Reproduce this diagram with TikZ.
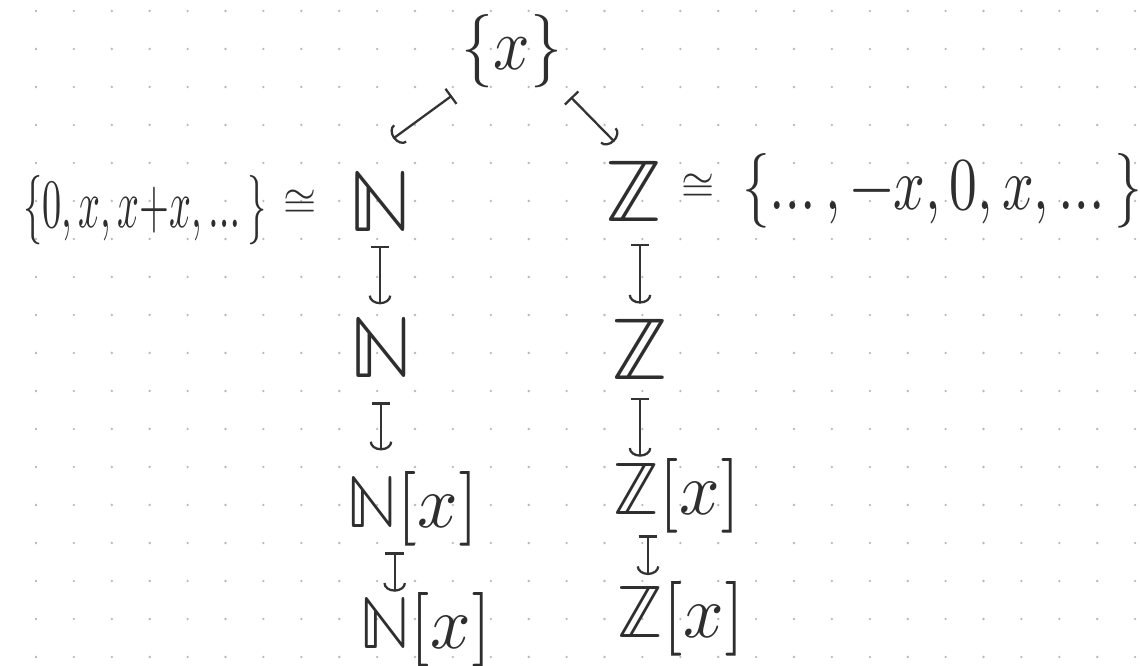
\documentclass[tikz,border=0pt]{standalone}
\usepackage{unicode-math}
\setmathfont{Latin Modern Math}
\usetikzlibrary{arrows.meta,calc}
\begin{document}
\begin{tikzpicture}[x=0.75pt,y=-0.75pt,
  mapsto/.style={line width=1.7pt, draw=black!80, line cap=round,
    {Bar[width=14pt,line width=1.7pt]}-{Arc Barb[width=17pt,length=6.5pt,line width=1.7pt]}},
  sym/.style={inner sep=0pt, text=black!82, anchor=base, font=\fontsize{66}{70}\selectfont},
  poly/.style={inner sep=0pt, text=black!82, anchor=base, font=\fontsize{56}{60}\selectfont},
  setf/.style={inner sep=0pt, text=black!82, anchor=base, font=\fontsize{40}{44}\selectfont},
  iso/.style={inner sep=0pt, text=black!82, font=\fontsize{32}{36}\selectfont}]
\useasboundingbox (0,0) rectangle (1140,666);
\fill[white] (0,0) rectangle (1140,666);
% dot grid of the paper
\foreach \i in {0,...,30}
  \foreach \j in {0,...,17}
    \fill[gray!55] (36+37.9*\i, 11+38*\j) circle (1.3);
% nodes
\node[inner sep=0pt, text=black!82, anchor=base, font=\fontsize{55}{60}\selectfont]
  (top) at (512,70) {\scalebox{0.87}[1]{$\{x\}$}};
\node[setf] (lset) at (145,228) {\scalebox{0.72}[1.3]{$\{0, x, x{+}x, \dots\}$}};
\node[iso] (lcong) at (300,202) {$\cong$};
\node[sym] (N1) at (380,232) {$\mathbb{N}$};
\node[sym] (Z1) at (634,222) {$\mathbb{Z}$};
\node[iso] (rcong) at (698,186) {$\cong$};
\node[setf] (rset) at (942,210) {\scalebox{1.04}[1.4]{$\{\dots, -x, 0, x, \dots\}$}};
\node[sym] (N2) at (381,378) {$\mathbb{N}$};
\node[sym] (Z2) at (640,380) {$\mathbb{Z}$};
\node[poly] (N3) at (412,528) {\scalebox{0.95}[1]{$\mathbb{N}[x]$}};
\node[poly] (Z3) at (676,515) {\scalebox{0.95}[1]{$\mathbb{Z}[x]$}};
\node[poly] (N4) at (425,648) {\scalebox{0.95}[1]{$\mathbb{N}[x]$}};
\node[poly] (Z4) at (680,638) {\scalebox{0.95}[1]{$\mathbb{Z}[x]$}};
% connectors
\draw[mapsto, shorten <=9pt, shorten >=42pt] (top.south west) -- (N1.north west);
\draw[mapsto, shorten <=9pt, shorten >=21pt] (top.south east) -- (Z1.north);
\draw[mapsto, shorten <=10pt, shorten >=10pt] (N1.south) -- (N1.south |- N2.north);
\draw[mapsto, shorten <=16pt, shorten >=12pt] (Z1.south -| Z2.north) -- (Z2.north);
\draw[mapsto, shorten <=18pt, shorten >=16pt] (N2.south) -- (N2.south |- N3.north);
\draw[mapsto, shorten <=13pt, shorten >=1.5pt] (Z2.south) -- (Z2.south |- Z3.north);
\draw[mapsto, shorten <=4pt, shorten >=0pt] ([xshift=-13pt]N3.south) -- ([xshift=-13pt]N3.south |- N4.north);
\draw[mapsto, shorten <=1pt, shorten >=5pt] ([xshift=-21pt]Z3.south) -- ([xshift=-21pt]Z3.south |- Z4.north);
\end{tikzpicture}
\end{document}
